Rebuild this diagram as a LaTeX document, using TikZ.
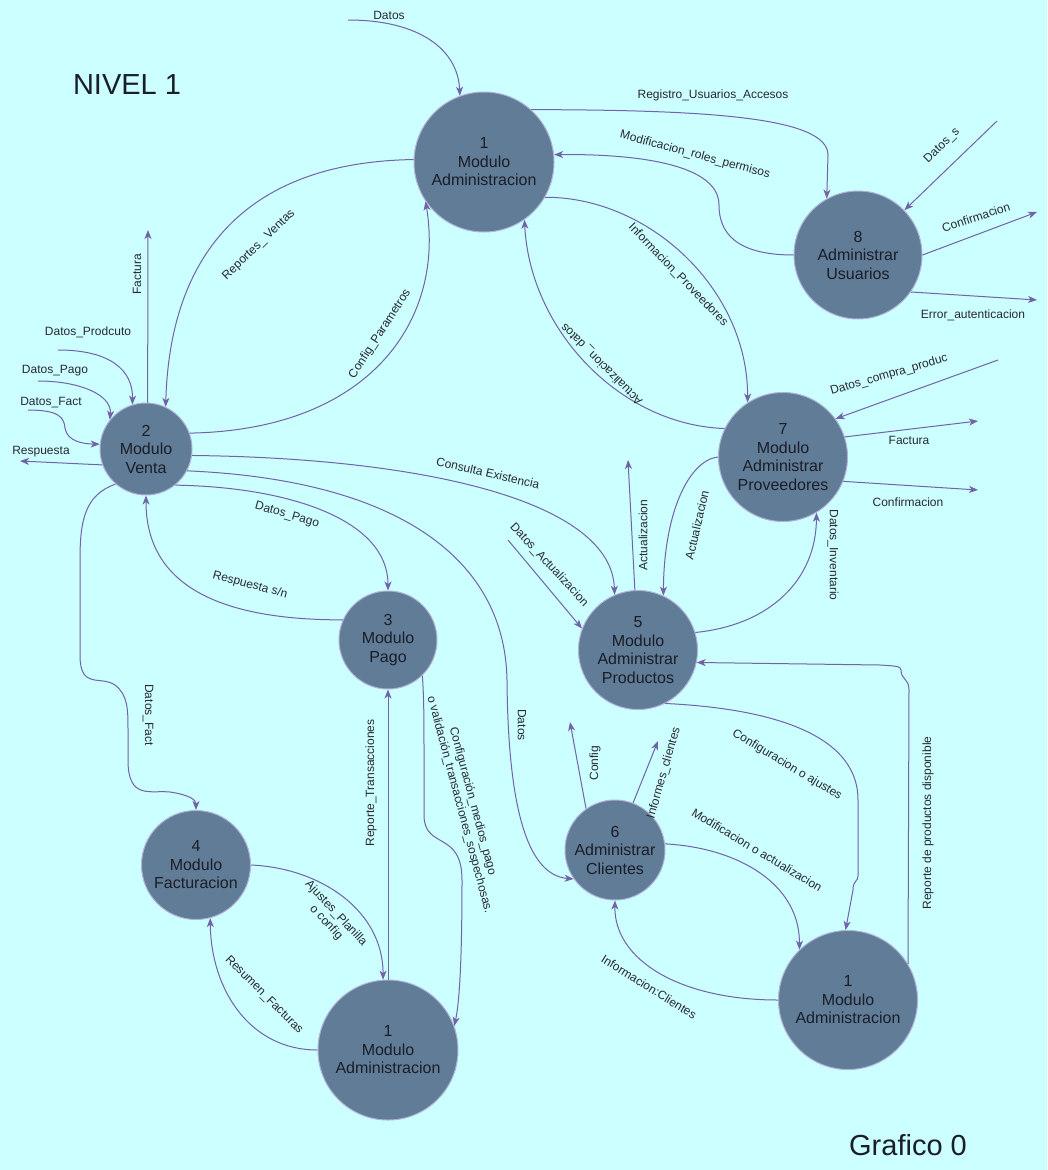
\documentclass[tikz,border=0pt]{standalone}
\usepackage{fontspec}
\setmainfont{Liberation Sans}
\usetikzlibrary{arrows.meta}
\definecolor{bgc}{RGB}{204,255,255}
\definecolor{procfill}{RGB}{96,124,151}
\definecolor{procline}{RGB}{176,176,214}
\definecolor{flowc}{RGB}{113,99,166}
\definecolor{nodetext}{RGB}{26,30,40}
\definecolor{lbltext}{RGB}{40,40,48}
\tikzset{
 proc/.style={circle, fill=procfill, draw=procline, line width=1pt, inner sep=0pt, align=center,
   font=\fontsize{16}{18.5}\selectfont, text=nodetext},
 flow/.style={draw=flowc, line width=1pt, -{Stealth[length=9pt,width=7pt,inset=2.5pt]}},
 lbl/.style={font=\fontsize{12}{13.5}\selectfont, text=lbltext, inner sep=0pt, align=center},
 ttl/.style={font=\fontsize{29}{32}\selectfont, text=nodetext, inner sep=0pt},
}
\begin{document}
\begin{tikzpicture}[x=1pt,y=-1pt]
\fill[bgc] (0,0) rectangle (1047,1170);
\useasboundingbox (0,0) rectangle (1047,1170);

% titles
\node[ttl] (nivel) at (127,85) {NIVEL 1};
\node[ttl] (graf) at (908,1145) {Grafico 0};

% processes
\node[proc, minimum size=140] (a1) at (484,162) {1\\Modulo\\Administracion};
\node[proc, minimum size=128] (n8) at (858,255) {8\\Administrar\\Usuarios};
\node[proc, minimum size=92] (n2) at (146,449) {2\\Modulo\\Venta};
\node[proc, minimum size=129] (n7) at (783,457) {7\\Modulo\\Administrar\\Proveedores};
\node[proc, minimum size=98] (n3) at (388,640) {3\\Modulo\\Pago};
\node[proc, minimum size=119] (n5) at (638,650) {5\\Modulo\\Administrar\\Productos};
\node[proc, minimum size=100] (n6) at (615,850) {6\\Administrar\\Clientes};
\node[proc, minimum size=109] (n4) at (196,865) {4\\Modulo\\Facturacion};
\node[proc, minimum size=140] (a1bl) at (388,1050) {1\\Modulo\\Administracion};
\node[proc, minimum size=139] (a1br) at (848,1000) {1\\Modulo\\Administracion};

% free ends
\coordinate (dA) at (348,20);
\coordinate (dS) at (997,121);
\coordinate (conf8) at (1037,212);
\coordinate (err8) at (1037,300);
\coordinate (fac1) at (148,230);
\coordinate (dProd) at (58,350);
\coordinate (dPago) at (38,381);
\coordinate (dFact) at (28,410);
\coordinate (resp) at (20,461);
\coordinate (act1) at (628,460);
\coordinate (dAct) at (508,540);
\coordinate (dComp) at (998,360);
\coordinate (fac7) at (978,421);
\coordinate (conf7) at (978,490);
\coordinate (cfg6) at (570,722);
\coordinate (inf6) at (658,741);

% flows around a1
\draw[flow] (dA) .. controls (420,20) and (458,50) .. (a1.110);
\draw[flow] (a1.48) .. controls (700,110) and (828,116) .. (828,155) -- (n8.119);
\draw[flow] (n8.180) .. controls (735,255) and (719,232) .. (719,205) .. controls (719,160) and (620,154) .. (a1.6);
\draw[flow] (dS) -- (n8.44);
\draw[flow] (n8.0) -- (conf8);
\draw[flow] (n8.-35) -- (err8);
\draw[flow] (a1.-30) .. controls (650,197) and (748,290) .. (n7.123);
\draw[flow] (n7.154) .. controls (620,425) and (530,330) .. (a1.-55);
\draw[flow] (a1.178) .. controls (250,162) and (170,250) .. (n2.65);
\draw[flow] (n2.20) .. controls (370,430) and (445,320) .. (a1.214);

% flows around n2
\draw[flow] (n2.88) -- (fac1);
\draw[flow] (dProd) .. controls (110,350) and (133,370) .. (n2.107);
\draw[flow] (dPago) .. controls (80,381) and (112,395) .. (n2.141);
\draw[flow] (dFact) .. controls (60,410) and (64,418) .. (65,428) .. controls (67,442) and (85,444) .. (n2.174);
\draw[flow] (n2.200) -- (resp);
\draw[flow] (n2.-8) .. controls (420,458) and (612,500) .. (n5.113);
\draw[flow] (n2.-51) .. controls (290,487) and (388,520) .. (n3.90);
\draw[flow] (n3.156) .. controls (210,620) and (146,580) .. (n2.-90);
\draw[flow] (n2.-28) .. controls (400,480) and (505,560) .. (507,680) .. controls (508,800) and (525,875) .. (n6.215);
\draw[flow] (n2.229) .. controls (85,495) and (80,520) .. (80,560) -- (80,655) .. controls (80,690) and (100,675) .. (115,685) .. controls (128,695) and (128,710) .. (128,730) -- (128,760) .. controls (128,800) and (150,790) .. (170,792) .. controls (190,795) and (196,800) .. (n4.90);

% flows around n3, n4, a1bl
\draw[flow] (n3.-46) .. controls (424,700) and (424,720) .. (424,760) -- (424,815) .. controls (424,850) and (462,830) .. (462,880) .. controls (462,950) and (460,1000) .. (a1bl.20);
\draw[flow] (a1bl.90) -- (n3.-90);
\draw[flow] (n4.0) .. controls (320,868) and (383,910) .. (a1bl.94);
\draw[flow] (a1bl.180) .. controls (250,1050) and (211,990) .. (n4.-75);

% flows around n5, n7
\draw[flow] (n5.93) -- (act1);
\draw[flow] (n7.180) .. controls (690,460) and (664,510) .. (n5.65);
\draw[flow] (dAct) -- (n5.159);
\draw[flow] (n5.17) .. controls (770,625) and (816,580) .. (n7.-59);
\draw[flow] (dComp) -- (n7.36);
\draw[flow] (n7.18) -- (fac7);
\draw[flow] (n7.-22) -- (conf7);

% flows around n6, a1br
\draw[flow] (a1br.31) -- (909,690) .. controls (909,678) and (901,680) .. (901,670) .. controls (901,666) and (895,666) .. (880,665) -- (n5.-12);
\draw[flow] (n5.-63) .. controls (760,708) and (858,730) .. (858,800) -- (858,876) .. controls (858,882) and (853,880) .. (853,890) -- (a1br.92);
\draw[flow] (n6.7) .. controls (740,848) and (800,885) .. (a1br.134);
\draw[flow] (a1br.180) .. controls (680,1000) and (614,960) .. (n6.-90);
\draw[flow] (n6.125) -- (cfg6);
\draw[flow] (n6.69) -- (inf6);

% labels
\node[lbl] (l1) at (389,15) {Datos};
\node[lbl] (l2) at (713,95) {Registro\_Usuarios\_Accesos};
\node[lbl, rotate=-15] (l3) at (695,155) {Modificacion\_roles\_permisos};
\node[lbl, rotate=44] (l4) at (942,146) {Datos\_s};
\node[lbl, rotate=18] (l5) at (976,217) {Confirmacion};
\node[lbl] (l6) at (973,315) {Error\_autenticacion};
\node[lbl, rotate=-46] (l7) at (678,275) {Informacion\_Proveedores};
\node[lbl, rotate=135] (l8) at (602,364) {Actualizacion\_ datos};
\node[lbl, rotate=44] (l9) at (259,245) {Reportes\_ Ventas};
\node[lbl, rotate=90] (l10) at (137,274) {Factura};
\node[lbl, rotate=57] (l11) at (380,334) {Config\_Parametros};
\node[lbl] (l12) at (88,332) {Datos\_Prodcuto};
\node[lbl] (l13) at (55,371) {Datos\_Pago};
\node[lbl] (l14) at (51,403) {Datos\_Fact};
\node[lbl] (l15) at (41,452) {Respuesta};
\node[lbl, rotate=-13] (l16) at (488,473) {Consulta Existencia};
\node[lbl, rotate=-16] (l17) at (287,515) {Datos\_Pago};
\node[lbl, rotate=-15] (l18) at (250,585) {Respuesta s/n};
\node[lbl, rotate=90] (l19) at (643,535) {Actualizacion};
\node[lbl, rotate=77] (l20) at (697,525) {Actualizacion};
\node[lbl, rotate=-47] (l21) at (549,565) {Datos\_Actualizacion};
\node[lbl, rotate=-90] (l22) at (833,555) {Datos\_Inventario};
\node[lbl, rotate=16] (l23) at (889,375) {Datos\_compra\_produc};
\node[lbl] (l24) at (909,440) {Factura};
\node[lbl] (l25) at (908,502) {Confirmacion};
\node[lbl, rotate=-90] (l26) at (148,715) {Datos\_Fact};
\node[lbl, rotate=90] (l27) at (371,783) {Reporte\_Transacciones};
\node[lbl, rotate=-75] (l28) at (466,803) {Configuración\_medios\_pago\\o validación\_transacciones\_sospechosas.};
\node[lbl, rotate=-90] (l29) at (522,725) {Datos};
\node[lbl, rotate=-47] (l30) at (331,918) {Ajustes\_Planilla\\o config};
\node[lbl, rotate=-45] (l31) at (264,995) {Resumen\_Facturas};
\node[lbl, rotate=90] (l32) at (595,763) {Config};
\node[lbl, rotate=74] (l33) at (664,773) {Informes\_clientes};
\node[lbl, rotate=-31] (l34) at (787,765) {Configuracion o ajustes};
\node[lbl, rotate=-31] (l35) at (757,850) {Modificacion o actualizacion};
\node[lbl, rotate=-32] (l36) at (649,987) {Informacion:Clientes};
\node[lbl, rotate=90] (l37) at (928,823) {Reporte de productos disponible};
\end{tikzpicture}
\end{document}
